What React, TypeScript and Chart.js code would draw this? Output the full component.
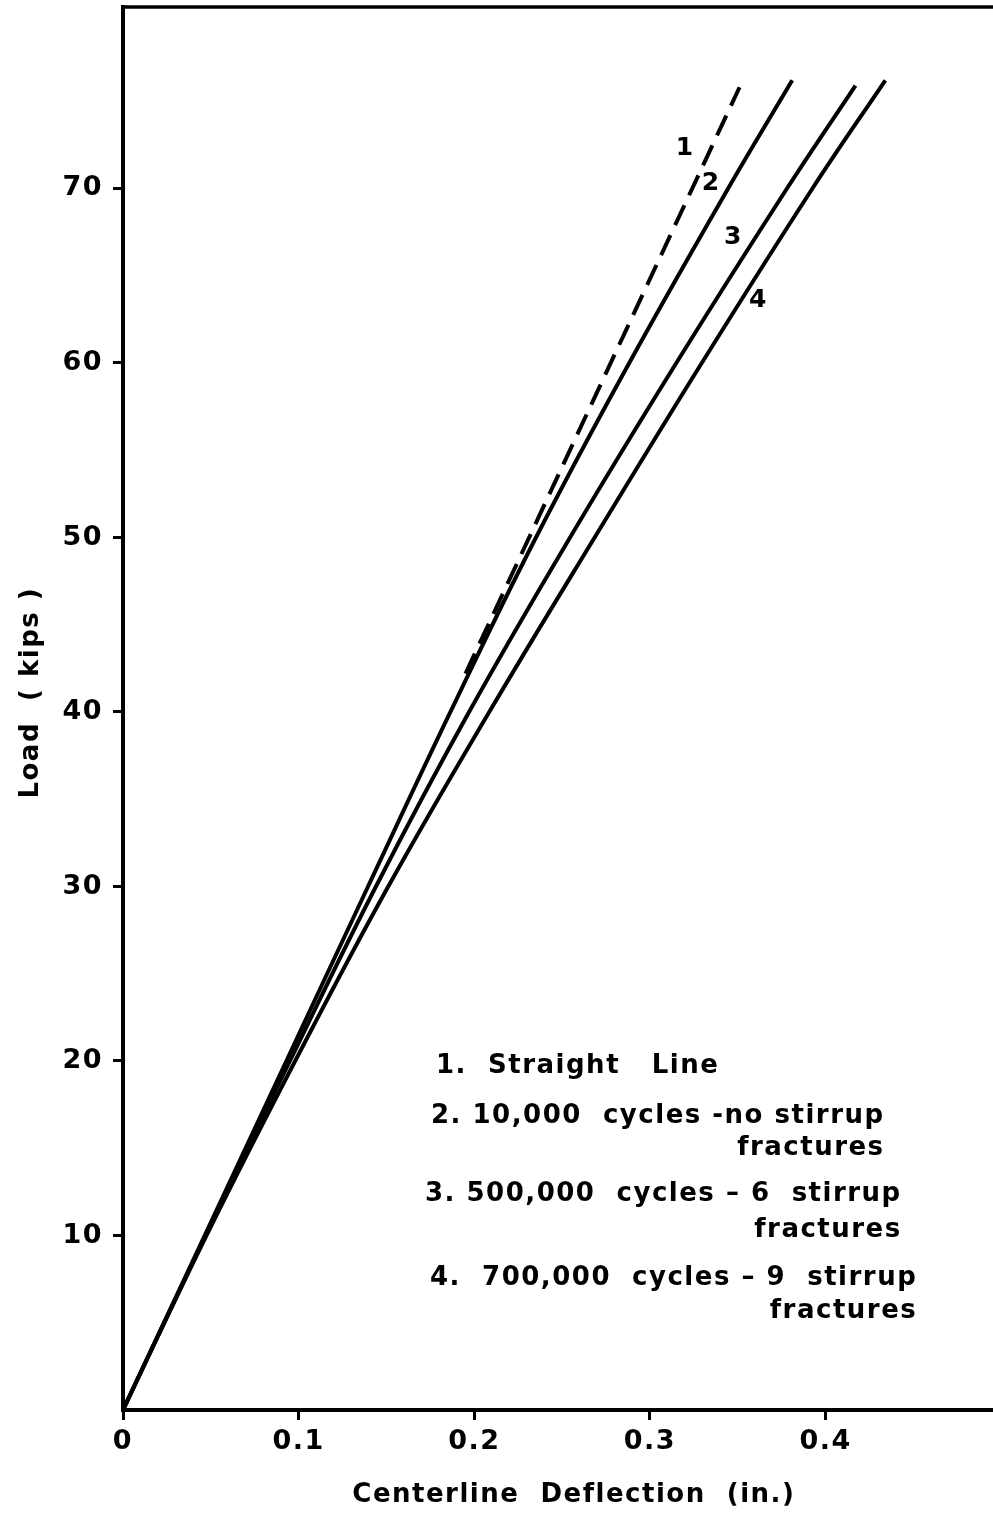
import React, { useEffect, useRef } from 'react';
import { Chart, registerables } from 'chart.js';

Chart.register(...registerables);

// ---- axis ticks ----
const X_TICKS = [0, 0.1, 0.2, 0.3, 0.4];
const X_TICK_LABELS = ['0', '0.1', '0.2', '0.3', '0.4'];
const Y_TICKS = [10, 20, 30, 40, 50, 60, 70];
const Y_TICK_LABELS = ['10', '20', '30', '40', '50', '60', '70'];
const X_MAX = 0.4953;
const Y_MAX = 80.4;

// ---- series (load in kips vs centerline deflection in inches) ----
const LOAD_1 = [42.2, 75.8];
const DEFL_1 = [0.195, 0.351];

const LOAD_2 = [0, 10, 20, 30, 40, 50, 60, 70, 76.2];
const DEFL_2 = [0, 0.0465, 0.093, 0.1395, 0.1864, 0.2351, 0.2882, 0.3445, 0.381];

const LOAD_3 = [0, 10, 20, 30, 40, 50, 60, 70, 75.9];
const DEFL_3 = [0, 0.047, 0.095, 0.144, 0.197, 0.2545, 0.315, 0.378, 0.417];

const LOAD_4 = [0, 10, 20, 30, 40, 50, 60, 70, 76.2];
const DEFL_4 = [0, 0.0475, 0.098, 0.151, 0.2085, 0.2685, 0.3295, 0.3925, 0.434];

// curve number labels (data coordinates)
const CURVE_NAMES = ['1', '2', '3', '4'];
const CURVE_NAME_DEFL = [0.3201, 0.3349, 0.3475, 0.3618];
const CURVE_NAME_LOAD = [72.3, 70.3, 67.2, 63.6];

// legend text
const LEGEND_HEADS = [
  '1.  Straight   Line',
  '2. 10,000  cycles -no stirrup',
  '3. 500,000  cycles \u2013 6  stirrup',
  '4.  700,000  cycles \u2013 9  stirrup',
];
const LEGEND_TAILS = ['', 'fractures', 'fractures', 'fractures'];

const X_TITLE = '   Centerline  Deflection  (in.)';
const Y_TITLE = '   Load  ( kips )';

const FONT = '"DejaVu Sans", sans-serif';
const SPACING = '1.5px';

const zip = (xs: number[], ys: number[]) => xs.map((x, i) => ({ x, y: ys[i] }));

const textPlugin = {
  id: 'textPlugin',
  beforeDraw(chart: any) {
    chart.ctx.letterSpacing = SPACING;
  },
  afterDraw(chart: any) {
    const { ctx, chartArea, scales } = chart;
    ctx.save();
    ctx.letterSpacing = SPACING;
    // top frame line
    ctx.strokeStyle = '#000';
    ctx.lineWidth = 3.5;
    ctx.beginPath();
    ctx.moveTo(chartArea.left - 2, chartArea.top);
    ctx.lineTo(chartArea.right, chartArea.top);
    ctx.stroke();

    ctx.fillStyle = '#000';
    // curve numbers
    ctx.font = `bold 25px ${FONT}`;
    ctx.textAlign = 'center';
    ctx.textBaseline = 'middle';
    CURVE_NAMES.forEach((n, i) => {
      ctx.fillText(n, scales.x.getPixelForValue(CURVE_NAME_DEFL[i]), scales.y.getPixelForValue(CURVE_NAME_LOAD[i]));
    });

    // legend
    ctx.font = `bold 26px ${FONT}`;
    ctx.textBaseline = 'alphabetic';
    ctx.textAlign = 'left';
    const headX = [436, 431, 425, 430];
    const headY = [1073, 1123, 1201, 1285];
    const tailY = [0, 1155, 1237, 1318];
    LEGEND_HEADS.forEach((t, i) => {
      ctx.fillText(t, headX[i], headY[i]);
      if (LEGEND_TAILS[i]) {
        const w = ctx.measureText(t).width;
        ctx.textAlign = 'right';
        ctx.fillText(LEGEND_TAILS[i], headX[i] + w, tailY[i]);
        ctx.textAlign = 'left';
      }
    });
    ctx.restore();
  },
};

export default function App() {
  const ref = useRef<HTMLCanvasElement | null>(null);
  useEffect(() => {
    if (!ref.current) return;
    const black = '#000';
    const line = { borderColor: black, borderWidth: 4, pointRadius: 0 };
    const chart = new Chart(ref.current, {
      type: 'line',
      data: {
        datasets: [
          { label: '1', data: zip(DEFL_1, LOAD_1), ...line, borderDash: [22, 11], tension: 0 },
          { label: '2', data: zip(DEFL_2, LOAD_2), ...line, tension: 0.4 },
          { label: '3', data: zip(DEFL_3, LOAD_3), ...line, tension: 0.4 },
          { label: '4', data: zip(DEFL_4, LOAD_4), ...line, tension: 0.4 },
        ],
      },
      options: {
        responsive: false,
        animation: false,
        layout: { padding: { top: 7, left: 0, right: 0, bottom: 0 } },
        plugins: { legend: { display: false }, tooltip: { enabled: false } },
        scales: {
          x: {
            type: 'linear',
            min: 0,
            max: X_MAX,
            afterFit: (s: any) => {
              s.height = 103;
              s.paddingLeft = 0;
              s.paddingRight = 0;
            },
            afterBuildTicks: (s: any) => {
              s.ticks = X_TICKS.map((v) => ({ value: v }));
            },
            ticks: {
              callback: (_v: any, i: number) => X_TICK_LABELS[i],
              color: black,
              font: { family: FONT, size: 27, weight: 'bold' },
              padding: 6,
              maxRotation: 0,
            },
            grid: { drawOnChartArea: false, drawTicks: true, tickLength: 10, color: black, lineWidth: 3 },
            border: { display: true, color: black, width: 4 },
            title: {
              display: true,
              text: X_TITLE,
              color: black,
              font: { family: FONT, size: 26, weight: 'bold' },
              padding: { top: 0, bottom: 2 },
            },
          },
          y: {
            type: 'linear',
            min: 0,
            max: Y_MAX,
            afterFit: (s: any) => {
              s.width = 123;
              s.paddingTop = 0;
              s.paddingBottom = 0;
            },
            afterBuildTicks: (s: any) => {
              s.ticks = Y_TICKS.map((v) => ({ value: v }));
            },
            ticks: {
              callback: (_v: any, i: number) => Y_TICK_LABELS[i],
              color: black,
              font: { family: FONT, size: 27, weight: 'bold' },
              padding: 10,
            },
            grid: { drawOnChartArea: false, drawTicks: true, tickLength: 10, color: black, lineWidth: 3 },
            border: { display: true, color: black, width: 4 },
            title: {
              display: true,
              text: Y_TITLE,
              color: black,
              font: { family: FONT, size: 26, weight: 'bold' },
              padding: { top: 16, bottom: 0 },
            },
          },
        },
      },
      plugins: [textPlugin],
    } as any);
    return () => chart.destroy();
  }, []);
  return (
    <div style={{ position: 'absolute', left: 0, top: 0, width: 993, height: 1513, background: '#fff' }}>
      <canvas ref={ref} width={993} height={1513} />
    </div>
  );
}
